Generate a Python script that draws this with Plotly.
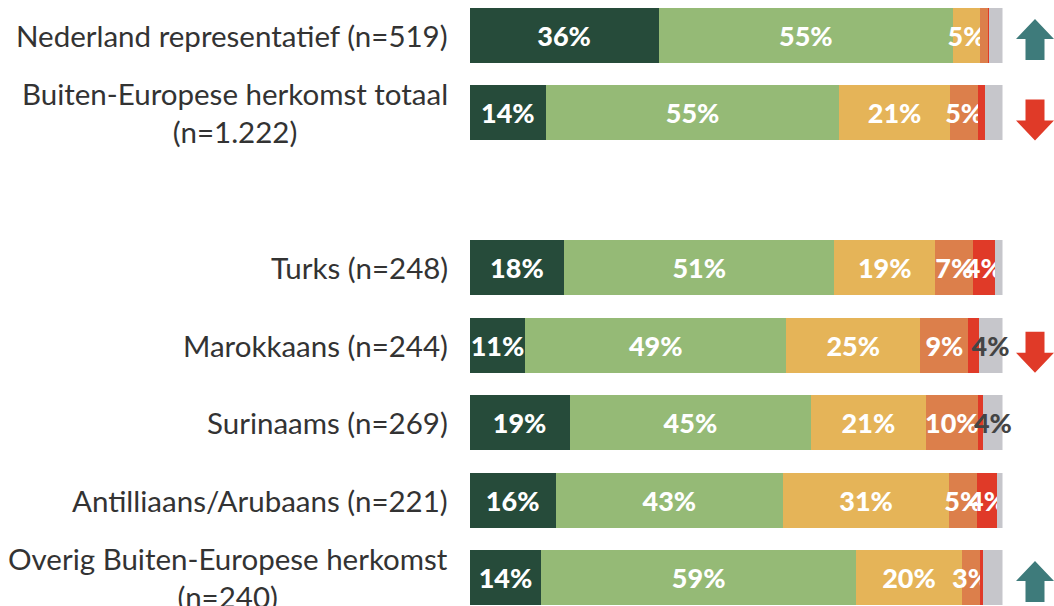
import plotly.graph_objects as go

categories = [
    "Nederland representatief (n=519)",
    "Buiten-Europese herkomst totaal<br>(n=1.222)",
    "Turks (n=248)",
    "Marokkaans (n=244)",
    "Surinaams (n=269)",
    "Antilliaans/Arubaans (n=221)",
    "Overig Buiten-Europese herkomst<br>(n=240)",
]
slots = [0, 1, 3, 4, 5, 6, 7]
trend = ["up", "down", None, "down", None, None, "up"]

series_names = ["Heel goed", "Goed", "Neutraal", "Slecht", "Heel slecht", "Weet niet"]
dark_green = [35.5, 14.4, 17.8, 10.5, 18.8, 16.2, 13.5]
light_green = [55.2, 54.9, 50.6, 48.9, 45.3, 42.6, 59.0]
yellow = [5.1, 20.9, 19.0, 25.2, 21.5, 31.2, 19.9]
orange = [1.4, 5.2, 7.1, 9.0, 9.8, 5.3, 3.4]
red = [0.2, 1.3, 4.0, 1.9, 1.0, 3.6, 0.6]
grey = [2.6, 3.3, 1.5, 4.5, 3.6, 1.1, 3.6]

lbl_dark = ["36%", "14%", "18%", "11%", "19%", "16%", "14%"]
lbl_light = ["55%", "55%", "51%", "49%", "45%", "43%", "59%"]
lbl_yellow = ["5%", "21%", "19%", "25%", "21%", "31%", "20%"]
lbl_orange = ["", "5%", "7%", "9%", "10%", "5%", "3%"]
lbl_red = ["", "", "4%", "", "", "4%", ""]
lbl_grey = ["", "", "", "4%", "4%", "", ""]

colors = ["#264b3a", "#95ba76", "#e5b458", "#dc7f4b", "#e03a28", "#c6c6cb"]
text_colors = ["white", "white", "white", "white", "white", "#444444"]

values = [dark_green, light_green, yellow, orange, red, grey]
labels = [lbl_dark, lbl_light, lbl_yellow, lbl_orange, lbl_red, lbl_grey]

W, H = 1054, 606
FS = 27

fig = go.Figure()
for name, vals, lbls, col, tcol in zip(series_names, values, labels, colors, text_colors):
    fig.add_trace(go.Bar(
        y=slots, x=vals, orientation="h", name=name,
        marker=dict(color=col, line=dict(width=0)),
        width=0.71,
        text=lbls, textposition="inside", insidetextanchor="middle",
        textangle=0, constraintext="none",
        textfont=dict(family="Lato", size=FS, color=tcol, weight=900),
        cliponaxis=False, hoverinfo="skip", showlegend=False,
    ))

annotations = []
for cat, s in zip(categories, slots):
    annotations.append(dict(
        x=450 / W, xref="paper", y=s, yref="y", xanchor="right", yanchor="middle",
        text=cat, showarrow=False, align="center",
        font=dict(family="Lato", size=29.5, color="#333333"),
    ))

px_per_unit = 542 / 7.0
shapes = []
cx = 1035 / W
hw_head = 19 / W
hw_stem = 9.5 / W
h_total = 41 / px_per_unit
h_head = 20 / px_per_unit
for s, t in zip(slots, trend):
    if t is None:
        continue
    if t == "up":
        yc = s + 4 / px_per_unit
        top = yc - h_total / 2
        bot = yc + h_total / 2
        hb = top + h_head
        path = (f"M {cx},{top} L {cx + hw_head},{hb} L {cx + hw_stem},{hb} "
                f"L {cx + hw_stem},{bot} L {cx - hw_stem},{bot} L {cx - hw_stem},{hb} "
                f"L {cx - hw_head},{hb} Z")
        col = "#3e7b7b"
    else:
        yc = s + 7 / px_per_unit
        top = yc - h_total / 2
        bot = yc + h_total / 2
        hb = bot - h_head
        path = (f"M {cx},{bot} L {cx + hw_head},{hb} L {cx + hw_stem},{hb} "
                f"L {cx + hw_stem},{top} L {cx - hw_stem},{top} L {cx - hw_stem},{hb} "
                f"L {cx - hw_head},{hb} Z")
        col = "#e03a28"
    shapes.append(dict(type="path", xref="paper", yref="y", path=path,
                       fillcolor=col, line=dict(width=0)))

y_top = -35.5 / px_per_unit
y_bot = 7 + (H - 577.5) / px_per_unit

fig.update_layout(
    width=W, height=H,
    margin=dict(l=0, r=0, t=0, b=0),
    paper_bgcolor="white", plot_bgcolor="white",
    barmode="stack",
    uniformtext=dict(minsize=FS, mode="show"),
    xaxis=dict(domain=[469.5 / W, 1002.5 / W], range=[0, 100], visible=False, fixedrange=True),
    yaxis=dict(range=[y_bot, y_top], visible=False, fixedrange=True),
    annotations=annotations,
    shapes=shapes,
)

fig.write_html(
    "out.html",
    config={"displayModeBar": False},
    post_script="document.body.style.margin='0';document.body.style.overflow='hidden';",
)
